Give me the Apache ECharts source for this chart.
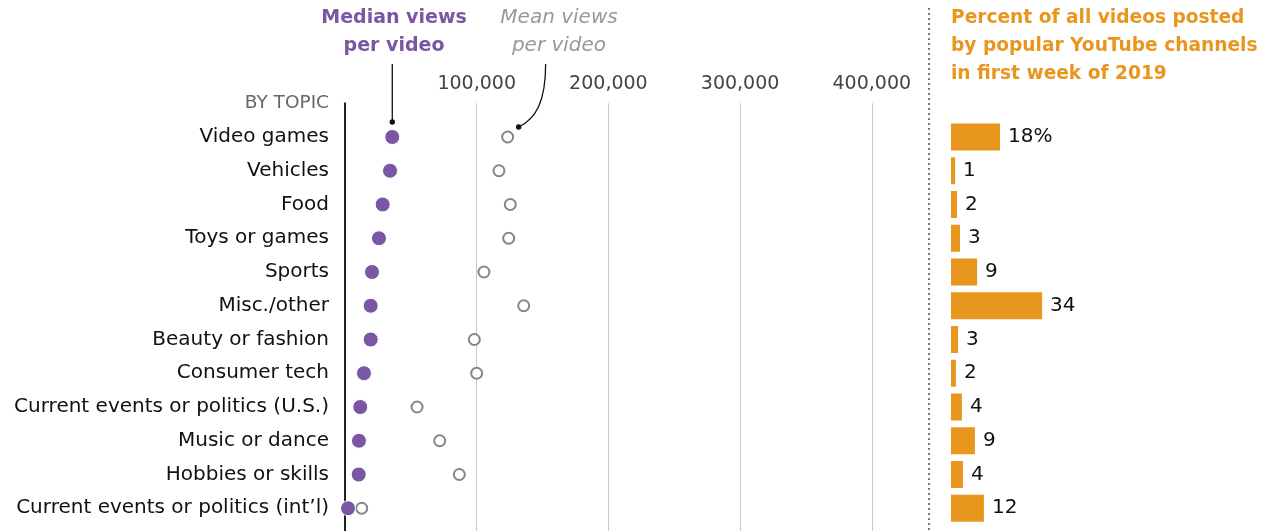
<!DOCTYPE html>
<html>
<head>
<meta charset="utf-8">
<script src="https://cdn.jsdelivr.net/npm/echarts@6/dist/echarts.min.js"></script>
<style>
  html, body { margin: 0; padding: 0; background: #fff; }
  #chart { width: 1270px; height: 531px; }
</style>
</head>
<body>
<div id="chart"></div>
<script>
const topics = [
  "Video games", "Vehicles", "Food", "Toys or games", "Sports", "Misc./other",
  "Beauty or fashion", "Consumer tech", "Current events or politics (U.S.)",
  "Music or dance", "Hobbies or skills", "Current events or politics (int\u2019l)"
];
const medianViews = [35900, 34200, 28600, 25800, 20500, 19500, 19500, 14400, 11600, 10600, 10400, 2300];
const meanViews = [123500, 116900, 125500, 124300, 105500, 135700, 98200, 100000, 54700, 71900, 86800, 12700];
const shareOfVideos = [18, 1.5, 2.2, 3.3, 9.6, 33.5, 2.6, 1.8, 4.0, 8.8, 4.4, 12.1];
const shareLabels = ["18%", "1", "2", "3", "9", "34", "3", "2", "4", "9", "4", "12"];
const viewTicks = [100000, 200000, 300000, 400000];

const FONT = "DejaVu Sans";
const PURPLE = "#7a57a5";
const ORANGE = "#e8961e";
const ROW = 33.75;
const FIRST_ROW_Y = 137;
const H = 531;
const gridTop = FIRST_ROW_Y - ROW;           // header row sits one row above
const leftHeight = H - gridTop;              // axis runs to the bottom edge
const leftMax = leftHeight / ROW - 1;

const chart = echarts.init(document.getElementById("chart"));

function axisName(v) {
  if (v === -1) return "{h|BY TOPIC}";
  if (Number.isInteger(v) && v >= 0 && v < topics.length) return topics[v];
  return "";
}

const option = {
  animation: false,
  textStyle: { fontFamily: FONT },
  grid: [
    { left: 345, top: gridTop, width: 4 * 131.7, height: leftHeight },
    { left: 951, top: gridTop - ROW / 2, width: 40 * 2.72, height: ROW * 13 }
  ],
  xAxis: [
    {
      gridIndex: 0, type: "value", position: "top", min: 0, max: 400000, interval: 100000,
      axisLine: { show: false }, axisTick: { show: false },
      splitLine: { show: true, showMinLine: false, lineStyle: { color: "#c8c8c8", width: 1 } },
      axisLabel: {
        margin: 10, color: "#444", fontSize: 19, fontFamily: FONT,
        formatter: v => (viewTicks.includes(v) ? v.toLocaleString("en-US") : "")
      }
    },
    {
      gridIndex: 1, type: "value", min: 0, max: 40, show: false
    }
  ],
  yAxis: [
    {
      gridIndex: 0, type: "value", inverse: true, min: -1, max: leftMax, interval: 1,
      axisLine: { show: true, lineStyle: { color: "#222", width: 2 } },
      axisTick: { show: false }, splitLine: { show: false },
      axisLabel: {
        margin: 16, color: "#111", fontSize: 20, fontFamily: FONT,
        showMaxLabel: false,
        formatter: axisName,
        rich: { h: { color: "#666", fontSize: 18.5, fontFamily: FONT } }
      }
    },
    {
      gridIndex: 1, type: "category", inverse: true, show: false,
      data: ["BY TOPIC"].concat(topics)
    }
  ],
  series: [
    {
      name: "Mean views per video", type: "scatter", xAxisIndex: 0, yAxisIndex: 0,
      symbol: "circle", symbolSize: 11, z: 3,
      itemStyle: { color: "#fff", borderColor: "#858585", borderWidth: 2, opacity: 1 },
      data: meanViews.map((v, i) => [v, i])
    },
    {
      name: "Median views per video", type: "scatter", xAxisIndex: 0, yAxisIndex: 0,
      symbol: "circle", symbolSize: 15, z: 4,
      itemStyle: { color: PURPLE, borderColor: "#fff", borderWidth: 1, opacity: 1 },
      data: medianViews.map((v, i) => [v, i])
    },
    {
      name: "Percent of videos", type: "bar", xAxisIndex: 1, yAxisIndex: 1,
      barWidth: 27,
      itemStyle: { color: ORANGE },
      label: {
        show: true, position: "right", distance: 8, color: "#111", fontSize: 20, fontFamily: FONT,
        formatter: p => shareLabels[p.dataIndex - 1]
      },
      data: [null].concat(shareOfVideos)
    }
  ]
};

chart.setOption(option);

// annotations anchored to the Video games points
const med = chart.convertToPixel({ gridIndex: 0 }, [medianViews[0], 0]);
const mean = chart.convertToPixel({ gridIndex: 0 }, [meanViews[0], 0]);

function title(text, x, y, color, font, align) {
  return { type: "text", x: x, y: y,
    style: { text: text, fill: color, font: font, textAlign: align, textVerticalAlign: "middle" } };
}
const boldFont = size => `normal bold ${size}px "${FONT}"`;
const italicFont = `italic normal 20px "${FONT}"`;

chart.setOption({
  graphic: [
    // median leader
    { type: "line", shape: { x1: med[0], y1: med[1] - 73, x2: med[0], y2: med[1] - 15 },
      style: { stroke: "#111", lineWidth: 1.3 } },
    { type: "circle", shape: { cx: med[0], cy: med[1] - 15, r: 2.7 }, style: { fill: "#111" } },
    // mean leader
    { type: "bezierCurve",
      shape: { x1: mean[0] + 38, y1: mean[1] - 73, cpx1: mean[0] + 38, cpy1: mean[1] - 35,
               cpx2: mean[0] + 28, cpy2: mean[1] - 18, x2: mean[0] + 11, y2: mean[1] - 10 },
      style: { stroke: "#111", lineWidth: 1.3, fill: null } },
    { type: "circle", shape: { cx: mean[0] + 11, cy: mean[1] - 10, r: 2.7 }, style: { fill: "#111" } },
    // titles
    title("Median views", 394, 18, PURPLE, boldFont(19), "center"),
    title("per video", 394, 46, PURPLE, boldFont(19), "center"),
    title("Mean views", 559, 18, "#999", italicFont, "center"),
    title("per video", 559, 46, "#999", italicFont, "center"),
    title("Percent of all videos posted", 951, 18, ORANGE, boldFont(18.6), "left"),
    title("by popular YouTube channels", 951, 46, ORANGE, boldFont(18.6), "left"),
    title("in first week of 2019", 951, 74, ORANGE, boldFont(18.6), "left"),
    // dotted separator
    { type: "line", shape: { x1: 929, y1: 8, x2: 929, y2: H },
      style: { stroke: "#777", lineWidth: 2, lineDash: [2, 3] } }
  ]
});
</script>
</body>
</html>
